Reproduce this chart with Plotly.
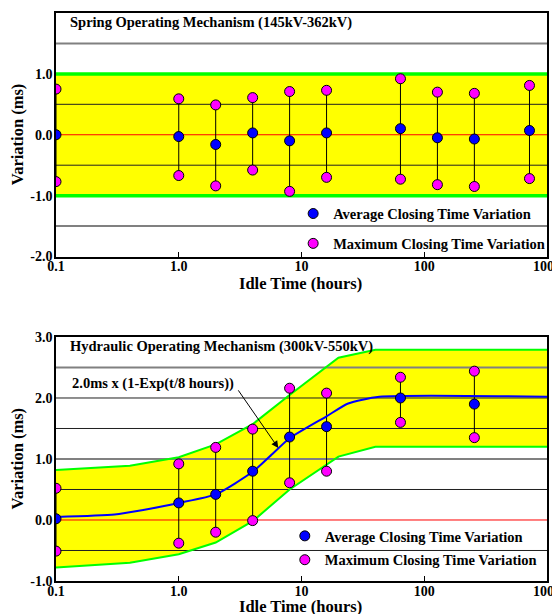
import plotly.graph_objects as go
from plotly.subplots import make_subplots

# ---------------- data: spring mechanism (top panel) ----------------
SPRING_T = [0.1, 1, 2, 4, 8, 16, 64, 128, 256, 720]
SPRING_AVG = [0.0, -0.03, -0.16, 0.03, -0.10, 0.03, 0.10, -0.05, -0.07, 0.07]
SPRING_MAX = [0.75, 0.59, 0.49, 0.61, 0.71, 0.73, 0.92, 0.70, 0.68, 0.81]
SPRING_MIN = [-0.77, -0.67, -0.84, -0.58, -0.93, -0.70, -0.73, -0.82, -0.85, -0.72]
SPRING_BAND_T = [0.1, 1000]
SPRING_BAND_UP = [1.0, 1.0]
SPRING_BAND_LO = [-1.0, -1.0]

# ---------------- data: hydraulic mechanism (bottom panel) ----------------
HYD_T = [0.1, 1, 2, 4, 8, 16, 64, 256]
HYD_AVG = [0.02, 0.28, 0.42, 0.80, 1.36, 1.53, 2.00, 1.90]
HYD_MAX = [0.52, 0.92, 1.19, 1.49, 2.16, 2.08, 2.34, 2.44]
HYD_MIN = [-0.51, -0.38, -0.20, -0.01, 0.61, 0.80, 1.60, 1.35]
HYD_FIT_T = [0.1, 0.3, 0.5, 1, 2, 4, 5.5, 8, 16, 24, 43, 1000]
HYD_FIT = [0.05, 0.09, 0.16, 0.28, 0.42, 0.79, 1.04, 1.34, 1.70, 1.91, 2.02, 2.02]
HYD_BAND_T = [0.1, 0.4, 1, 2, 4, 8, 20, 40, 1000]
HYD_BAND_UP = [0.82, 0.89, 1.03, 1.24, 1.57, 2.05, 2.66, 2.79, 2.79]
HYD_BAND_LO = [-0.78, -0.70, -0.56, -0.37, -0.02, 0.50, 1.04, 1.20, 1.20]

# ---------------- tick labels / text ----------------
X_TICKS = [0.1, 1, 10, 100, 1000]
X_TICKTEXT = ["0.1", "1.0", "10", "100", "1000"]
Y1_TICKS = [-2, -1, 0, 1, 2]
Y1_TICKTEXT = ["-2.0", "-1.0", "0.0", "1.0", "2.0"]
Y2_TICKS = [-1, 0, 1, 2, 3]
Y2_TICKTEXT = ["-1.0", "0.0", "1.0", "2.0", "3.0"]
GRID1_DARK = [0.5, -0.5]
GRID1_GREY = [1.5, -1.5]
GRID2_DARK = [2.0, 1.5, 0.5, -0.5]
GRID2_GREY = [2.5, 1.0]
TITLE1 = "Spring Operating Mechanism (145kV-362kV)"
TITLE2 = "Hydraulic Operating Mechanism (300kV-550kV)"
FIT_LABEL = "2.0ms x (1-Exp(t/8 hours))"
LEG_AVG = "Average Closing Time Variation"
LEG_MAX = "Maximum Closing Time Variation"
X_TITLE = "Idle Time (hours)"
Y_TITLE = "Variation (ms)"

FONT = "Liberation Serif"
YELLOW = "#FFFF00"
GREEN = "#00FF00"
BLUE = "#0000FF"
MAGENTA = "#FF00FF"
X_MIN, X_MAX = 0.1, 1000

fig = make_subplots(rows=2, cols=1)


def hlines(values):
    xs, ys = [], []
    for v in values:
        xs += [X_MIN, X_MAX, None]
        ys += [v, v, None]
    return xs, ys


def vbars(t, lo, hi):
    xs, ys = [], []
    for a, b, c in zip(t, lo, hi):
        xs += [a, a, None]
        ys += [b, c, None]
    return xs, ys


def panel(row, bt, bup, blo, green_w, grid_dark, grid_grey, t, avg, mx, mn,
          legend, fit_t=None, fit=None):
    common = dict(row=row, col=1)
    # yellow band
    fig.add_trace(go.Scatter(x=bt + bt[::-1], y=bup + blo[::-1], fill="toself",
                             fillcolor=YELLOW, mode="lines", line=dict(width=0),
                             hoverinfo="skip", showlegend=False), **common)
    # grid lines
    gx, gy = hlines(grid_grey)
    fig.add_trace(go.Scatter(x=gx, y=gy, mode="lines",
                             line=dict(color="#808080", width=2),
                             hoverinfo="skip", showlegend=False), **common)
    gx, gy = hlines(grid_dark)
    fig.add_trace(go.Scatter(x=gx, y=gy, mode="lines",
                             line=dict(color="#202020", width=1),
                             hoverinfo="skip", showlegend=False), **common)
    gx, gy = hlines([0])
    fig.add_trace(go.Scatter(x=gx, y=gy, mode="lines",
                             line=dict(color="#FF0000", width=1),
                             hoverinfo="skip", showlegend=False), **common)
    # green band edges
    for edge in (bup, blo):
        fig.add_trace(go.Scatter(x=bt, y=edge, mode="lines",
                                 line=dict(color=GREEN, width=green_w),
                                 hoverinfo="skip", showlegend=False), **common)
    # vertical range bars
    vx, vy = vbars(t, mn, mx)
    fig.add_trace(go.Scatter(x=vx, y=vy, mode="lines",
                             line=dict(color="black", width=1),
                             hoverinfo="skip", showlegend=False), **common)
    if fit is not None:
        fig.add_trace(go.Scatter(x=fit_t, y=fit, mode="lines",
                                 line=dict(color=BLUE, width=2, shape="spline",
                                           smoothing=0.6),
                                 hoverinfo="skip", showlegend=False), **common)
    fig.add_trace(go.Scatter(x=t, y=avg, mode="markers", name=LEG_AVG,
                             legend=legend, legendgroup=legend + "a",
                             marker=dict(color=BLUE, size=10,
                                         line=dict(color="black", width=1))),
                  **common)
    fig.add_trace(go.Scatter(x=t + t, y=mx + mn, mode="markers", name=LEG_MAX,
                             legend=legend, legendgroup=legend + "m",
                             marker=dict(color=MAGENTA, size=10,
                                         line=dict(color="black", width=1))),
                  **common)


panel(1, SPRING_BAND_T, SPRING_BAND_UP, SPRING_BAND_LO, 3.5, GRID1_DARK, GRID1_GREY,
      SPRING_T, SPRING_AVG, SPRING_MAX, SPRING_MIN, "legend")
panel(2, HYD_BAND_T, HYD_BAND_UP, HYD_BAND_LO, 2, GRID2_DARK, GRID2_GREY,
      HYD_T, HYD_AVG, HYD_MAX, HYD_MIN, "legend2", HYD_FIT_T, HYD_FIT)

tickfont = dict(family=FONT, size=14, color="black", weight="bold")
titlefont = dict(family=FONT, size=16.5, color="black", weight="bold")

xcommon = dict(type="log", range=[-1, 3], tickvals=X_TICKS, ticktext=X_TICKTEXT,
               ticks="inside", ticklen=5, tickcolor="black", showgrid=False,
               showline=True, mirror=True, linecolor="black", linewidth=1.5,
               tickfont=tickfont, zeroline=False, automargin=False,
               ticklabeloverflow="allow", ticklabelstandoff=-4)
ycommon = dict(showgrid=False, zeroline=False, ticks="", showline=True, mirror=True,
               linecolor="black", linewidth=1.5, tickfont=tickfont, automargin=False,
               ticklabelstandoff=-1)

fig.update_xaxes(**xcommon)
fig.update_yaxes(**ycommon)
# plot area spans figure pixels 5..573 (height 620, t=5, b=47)
fig.update_yaxes(range=[-2, 2], tickvals=Y1_TICKS, ticktext=Y1_TICKTEXT,
                 domain=[0.5713, 1.0], row=1, col=1)
fig.update_yaxes(range=[-1, 3], tickvals=Y2_TICKS, ticktext=Y2_TICKTEXT,
                 domain=[0.0, 0.4296], row=2, col=1)

annfont = dict(family=FONT, size=14.5, color="black", weight="bold")
fig.add_annotation(text=TITLE1, xref="x domain", yref="y domain", x=0.024, y=0.96,
                   xanchor="left", yanchor="middle", showarrow=False, font=annfont)
fig.add_annotation(text=TITLE2, xref="x2 domain", yref="y2 domain", x=0.024, y=0.959,
                   xanchor="left", yanchor="middle", showarrow=False, font=annfont)
fig.add_annotation(text=FIT_LABEL, xref="x2 domain", yref="y2 domain", x=0.197,
                   y=0.808, xanchor="center", yanchor="middle", showarrow=False,
                   font=annfont)
fig.add_annotation(text=" ", xref="x2", yref="y2", x=0.811, y=1.18, ax=-43, ay=-62,
                   showarrow=True, arrowhead=2, arrowsize=1.4, arrowwidth=1,
                   arrowcolor="black")

# axis titles
fig.add_annotation(text=X_TITLE, xref="paper", yref="paper", x=0.497, y=0.524,
                   xanchor="center", yanchor="middle", showarrow=False,
                   font=titlefont, borderpad=0)
fig.add_annotation(text=X_TITLE, xref="paper", yref="paper", x=0.497, y=-0.0445,
                   xanchor="center", yanchor="middle", showarrow=False,
                   font=titlefont, borderpad=0)
fig.add_annotation(text=Y_TITLE, xref="paper", yref="y domain", x=-0.0784, y=0.5,
                   xanchor="center", yanchor="middle", textangle=-90,
                   showarrow=False, font=titlefont, borderpad=0)
fig.add_annotation(text=Y_TITLE, xref="paper", yref="y2 domain", x=-0.0784, y=0.5,
                   xanchor="center", yanchor="middle", textangle=-90,
                   showarrow=False, font=titlefont, borderpad=0)

legfont = dict(family=FONT, size=14.5, color="black", weight="bold")
fig.update_layout(
    width=552, height=620,
    margin=dict(l=48, r=13, t=5, b=47),
    plot_bgcolor="white", paper_bgcolor="white",
    font=dict(family=FONT, color="black"),
    legend=dict(x=0.483, y=0.675, xanchor="left", yanchor="top",
                bgcolor="rgba(0,0,0,0)", font=legfont, tracegroupgap=8),
    legend2=dict(x=0.466, y=0.1075, xanchor="left", yanchor="top",
                 bgcolor="rgba(0,0,0,0)", font=legfont, tracegroupgap=2),
)

fig.write_html("out.html")
